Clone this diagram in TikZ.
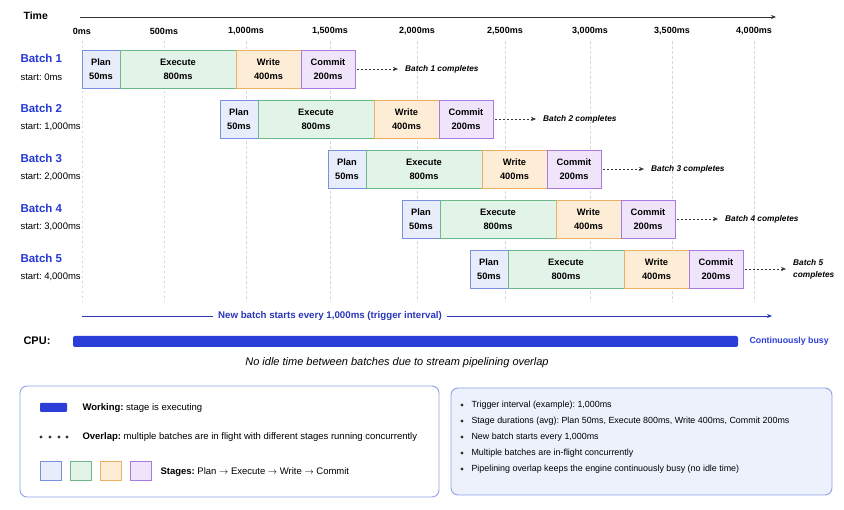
\documentclass[tikz,border=0pt]{standalone}
\usepackage{fontspec}
\setmainfont{Liberation Sans}
\usetikzlibrary{positioning,arrows.meta}
\frenchspacing

\definecolor{planfill}{HTML}{E8EDFB}
\definecolor{planline}{HTML}{7B8FE3}
\definecolor{execfill}{HTML}{E2F3E8}
\definecolor{execline}{HTML}{6DB88A}
\definecolor{writefill}{HTML}{FDEDD6}
\definecolor{writeline}{HTML}{EDB063}
\definecolor{commitfill}{HTML}{F0E4FB}
\definecolor{commitline}{HTML}{A87BE3}
\definecolor{batchblue}{HTML}{2438D6}
\definecolor{cpublue}{HTML}{2B3ED8}
\definecolor{trigblue}{HTML}{2A36B8}
\definecolor{gridgray}{HTML}{D8D8D8}
\definecolor{boxline}{HTML}{8EA2E8}
\definecolor{infofill}{HTML}{ECF1FC}
\definecolor{axisgray}{HTML}{333333}

\begin{document}
\begin{tikzpicture}[x=1pt, y=-1pt, >={Stealth[length=5pt,width=4pt]},
		stage/.style={draw, line width=0.8pt, minimum height=38pt, inner sep=0pt, outer sep=0pt,
			align=center, font=\fontsize{9.3}{14}\selectfont\bfseries},
		plan/.style={stage, fill=planfill, draw=planline, minimum width=38pt},
		exec/.style={stage, fill=execfill, draw=execline, minimum width=116pt},
		write/.style={stage, fill=writefill, draw=writeline, minimum width=65pt},
		commit/.style={stage, fill=commitfill, draw=commitline, minimum width=54pt},
		donearrow/.style={->, axisgray, dash pattern=on 2pt off 2pt, shorten <=2pt, shorten >=7pt},
		tick/.style={font=\fontsize{9}{10}\selectfont\bfseries},
		gridline/.style={gridgray, dash pattern=on 2.5pt off 2.5pt, line width=0.5pt},
		legtext/.style={anchor=west, font=\fontsize{9.5}{11}\selectfont},
		legsq/.style={line width=0.8pt, minimum width=21pt, minimum height=19pt, inner sep=0pt}]
	\useasboundingbox (0,0) rectangle (844,510);
	% time axis
	\node[anchor=west, font=\fontsize{10.5}{12}\selectfont\bfseries] (time) at (20,16) {Time};
	\coordinate (axS) at (80,17);
	\coordinate (axE) at (776,17);
	\draw[->, axisgray, line width=0.8pt] (axS) -- (axE);
	\foreach \tx/\tl [count=\i] in {82/0ms, 164/500ms, 246/{1,000ms}, 330/{1,500ms}, 417/{2,000ms},
			505/{2,500ms}, 590/{3,000ms}, 672/{3,500ms}, 754/{4,000ms}} {
		\node[tick] (t\i) at (\tx,31) {\tl};
		\coordinate (g\i) at (\tx,302);
		\draw[gridline] (t\i.south) ++(0,3) -- (g\i);
	}
	% batches
	\foreach \n/\sx/\yy/\st/\dn in {1/82/69/0ms/{Batch 1 completes}, 2/220/119/{1,000ms}/{Batch 2 completes},
			3/328/169/{2,000ms}/{Batch 3 completes}, 4/402/219/{3,000ms}/{Batch 4 completes},
			5/470/269/{4,000ms}/{Batch 5\\completes}} {
		\node[anchor=west, text=batchblue, font=\fontsize{11.5}{13}\selectfont\bfseries] (lab\n) at (17,\yy-11) {Batch \n};
		\node[anchor=west, font=\fontsize{9.5}{11}\selectfont] (st\n) at (17,\yy+8) {start: \st};
		\node[plan, anchor=west] (plan\n) at (\sx,\yy) {Plan\\50ms};
		\node[exec, right=0pt of plan\n] (exec\n) {Execute\\800ms};
		\node[write, right=0pt of exec\n] (write\n) {Write\\400ms};
		\node[commit, right=0pt of write\n] (commit\n) {Commit\\200ms};
		\node[right=50pt of commit\n, inner sep=0pt, align=left,
			font=\fontsize{8.3}{12}\selectfont\bfseries\itshape] (done\n) {\dn};
		\draw[donearrow] (commit\n.east) -- (done\n.west);
	}
	% trigger interval
	\coordinate (trS) at (82,316);
	\coordinate (trE) at (772,316);
	\draw[->, trigblue, line width=0.7pt] (trS) -- (trE);
	\node[fill=white, inner xsep=5pt, text=trigblue, font=\fontsize{9.7}{11}\selectfont\bfseries] (trig) at (330,316)
		{New batch starts every 1,000ms (trigger interval)};
	% cpu bar
	\node[anchor=west, font=\fontsize{11}{13}\selectfont\bfseries] (cpu) at (20,341) {CPU:};
	\fill[cpublue, rounded corners=2pt] (73,336) rectangle (738,347);
	\node[anchor=west, text=cpublue, font=\fontsize{8.8}{10}\selectfont\bfseries] (busy) at (746,341) {Continuously busy};
	\node[font=\fontsize{11}{13}\selectfont\itshape] (idle) at (397,363)
		{No idle time between batches due to stream pipelining overlap};
	% legend
	\draw[boxline, line width=0.9pt, fill=white, rounded corners=7pt] (20,386) rectangle (439,497);
	\fill[cpublue, rounded corners=1pt] (40,403) rectangle (67,412);
	\node[legtext] (lwork) at (79,408) {\textbf{Working:} stage is executing};
	\foreach \dx in {41,50,59,67} \fill[axisgray] (\dx,437) circle (1.6);
	\node[legtext] (lover) at (79,437)
		{\textbf{Overlap:} multiple batches are in flight with different stages running concurrently};
	\node[legsq, fill=planfill, draw=planline] (sq1) at (50.5,471) {};
	\node[legsq, fill=execfill, draw=execline] (sq2) at (80.5,471) {};
	\node[legsq, fill=writefill, draw=writeline] (sq3) at (110.5,471) {};
	\node[legsq, fill=commitfill, draw=commitline] (sq4) at (140.5,471) {};
	\node[legtext] (lstage) at (157,472)
		{\textbf{Stages:} Plan $\rightarrow$ Execute $\rightarrow$ Write $\rightarrow$ Commit};
	% notes
	\draw[boxline, line width=0.9pt, fill=infofill, rounded corners=7pt] (451,388) rectangle (832,495);
	\foreach \ly/\lt [count=\i] in {405/{Trigger interval (example): 1,000ms},
			421/{Stage durations (avg): Plan 50ms, Execute 800ms, Write 400ms, Commit 200ms},
			437/{New batch starts every 1,000ms},
			453/{Multiple batches are in-flight concurrently},
			469/{Pipelining overlap keeps the engine continuously busy (no idle time)}} {
		\fill[axisgray] (462,\ly) circle (1.6);
		\node[anchor=west, font=\fontsize{8.9}{10}\selectfont] (n\i) at (468,\ly) {\lt};
	}
\end{tikzpicture}
\end{document}
